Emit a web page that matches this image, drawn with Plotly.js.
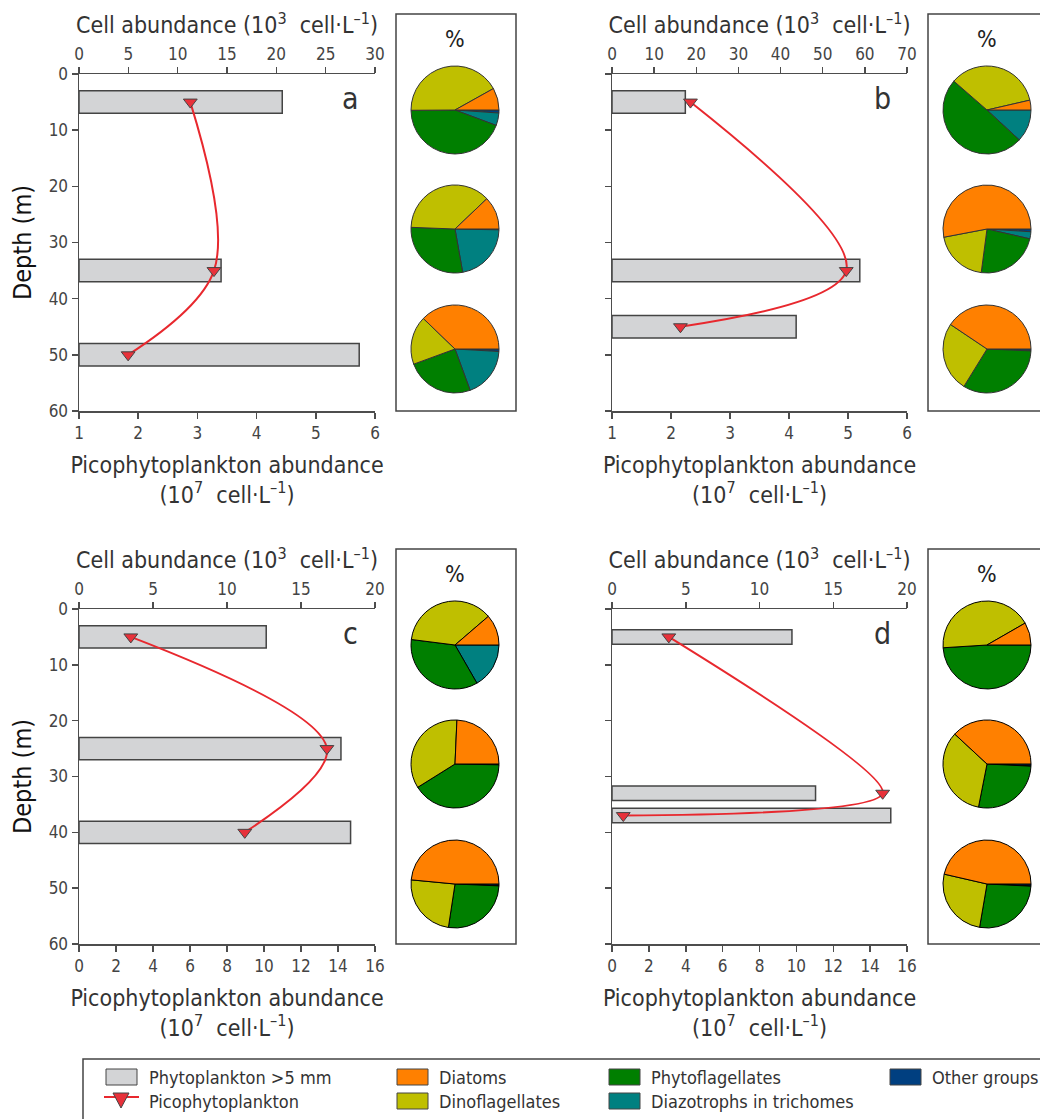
<!DOCTYPE html>
<html><head><meta charset="utf-8">
<script src="https://cdn.plot.ly/plotly-3.0.1.min.js"></script>
<style>html,body{margin:0;padding:0;background:#fff}#chart{width:1040px;height:1119px}</style>
</head><body><div id="chart"></div>
<script>
// ---------------- DATA ----------------
const depthsA = [5, 35, 50];
const cellA = [20.6, 14.4, 28.4];
const picoA = [2.88, 3.28, 1.83];

const depthsB = [5, 35, 45];
const cellB = [17.4, 58.8, 43.7];
const picoB = [2.33, 4.97, 2.16];

const depthsC = [5, 25, 40];
const cellC = [12.65, 17.7, 18.35];
const picoC = [2.8, 13.4, 8.96];

const depthsD = [5, 33, 37];
const cellD = [12.2, 13.8, 18.9];
const picoD = [3.08, 14.68, 0.61];

const panelLetters = ['a', 'b', 'c', 'd'];
const cellTicksA = [0, 5, 10, 15, 20, 25, 30];
const cellTicksB = [0, 10, 20, 30, 40, 50, 60, 70];
const cellTicksCD = [0, 5, 10, 15, 20];
const picoTicksAB = [1, 2, 3, 4, 5, 6];
const picoTicksCD = [0, 2, 4, 6, 8, 10, 12, 14, 16];
const depthTicks = [0, 10, 20, 30, 40, 50, 60];

const groupLabels = ['Diatoms', 'Dinoflagellates', 'Phytoflagellates', 'Diazotrophs in trichomes', 'Other groups'];
// percentages per depth (top, middle, bottom), in groupLabels order
const pieA = [[8.1, 42.0, 44.2, 4.6, 1.1], [12.1, 37.3, 28.4, 21.9, 0.3], [37.8, 17.8, 25.0, 18.5, 0.9]];
const pieB = [[3.6, 35.0, 49.5, 11.9, 0.0], [53.0, 19.9, 23.5, 2.6, 1.0], [40.6, 25.6, 33.1, 0.0, 0.7]];
const pieC = [[11.3, 36.7, 35.3, 16.7, 0.0], [24.3, 34.6, 40.8, 0.0, 0.3], [48.5, 24.1, 26.7, 0.0, 0.7]];
const pieD = [[8.3, 42.7, 49.0, 0.0, 0.0], [38.1, 33.8, 27.3, 0.0, 0.8], [46.4, 25.9, 26.9, 0.0, 0.8]];

const legendBarLabel = 'Phytoplankton >5 mm';
const legendPicoLabel = 'Picophytoplankton';

// ---------------- STYLE / LAYOUT ----------------
const W = 1040, H = 1119;
const FONT = '"Liberation Sans Narrow", "Arial Narrow", "DejaVu Sans Condensed", sans-serif';
const groupColors = ['#FF8000', '#BFBF00', '#007F00', '#008080', '#003F80'];
const axisColor = '#4d4d4d';
const tickFont = {family: FONT, size: 17, color: '#444'};
const titleFont = {family: FONT, size: 23, color: '#333'};
const px = x => x / W;
const py = y => 1 - y / H;

const panels = [
  {depths: depthsA, cell: cellA, pico: picoA, cellTicks: cellTicksA, cellRange: [0, 30], picoTicks: picoTicksAB, picoRange: [1, 6], barW: 4, smooth: 1.0, x0: 79, x1: 375, y0: 74, y1: 411, labels: true, pies: pieA, pieLine: '#333'},
  {depths: depthsB, cell: cellB, pico: picoB, cellTicks: cellTicksB, cellRange: [0, 70], picoTicks: picoTicksAB, picoRange: [1, 6], barW: 4, smooth: 1.0, x0: 612, x1: 907, y0: 74, y1: 411, labels: false, pies: pieB, pieLine: '#333'},
  {depths: depthsC, cell: cellC, pico: picoC, cellTicks: cellTicksCD, cellRange: [0, 20], picoTicks: picoTicksCD, picoRange: [0, 16], barW: 4, smooth: 1.0, x0: 79, x1: 375, y0: 609, y1: 944, labels: true, pies: pieC, pieLine: '#000'},
  {depths: depthsD, cell: cellD, pico: picoD, cellTicks: cellTicksCD, cellRange: [0, 20], picoTicks: picoTicksCD, picoRange: [0, 16], barW: 2.6, smooth: 0.7, x0: 612, x1: 907, y0: 609, y1: 944, labels: false, pies: pieD, pieLine: '#000'}
];

const data = [];
const layout = {
  width: W, height: H,
  margin: {l: 0, r: 0, t: 0, b: 0},
  paper_bgcolor: '#fff', plot_bgcolor: 'rgba(0,0,0,0)',
  showlegend: false,
  font: {family: FONT, color: '#333'},
  shapes: [], annotations: []
};

const cellTitle = 'Cell abundance (10<sup>3</sup>\u00A0\u00A0cell\u00B7L<sup>\u20131</sup>)';
const picoTitle = 'Picophytoplankton abundance<br>(10<sup>7</sup>\u00A0\u00A0cell\u00B7L<sup>\u20131</sup>)';

panels.forEach((p, i) => {
  const topN = 2 * i + 1, botN = 2 * i + 2, yN = i + 1;
  const topKey = 'xaxis' + (topN === 1 ? '' : topN);
  const botKey = 'xaxis' + botN;
  const yKey = 'yaxis' + (yN === 1 ? '' : yN);
  const topRef = 'x' + (topN === 1 ? '' : topN);
  const botRef = 'x' + botN;
  const yRef = 'y' + (yN === 1 ? '' : yN);
  const common = {
    showgrid: false, zeroline: false, showline: true, linecolor: axisColor, linewidth: 1.5,
    ticks: 'outside', ticklen: 6, tickwidth: 1.5, tickcolor: axisColor,
    tickfont: tickFont, fixedrange: true, automargin: false
  };
  layout[topKey] = Object.assign({}, common, {
    domain: [px(p.x0), px(p.x1)], anchor: yRef, side: 'top', range: p.cellRange,
    tickmode: 'array', tickvals: p.cellTicks, ticktext: p.cellTicks.map(String),
    title: {text: cellTitle, font: titleFont, standoff: 3}
  });
  layout[botKey] = Object.assign({}, common, {
    domain: [px(p.x0), px(p.x1)], anchor: yRef, side: 'bottom', overlaying: topRef, range: p.picoRange,
    tickmode: 'array', tickvals: p.picoTicks, ticktext: p.picoTicks.map(String),
    title: {text: picoTitle, font: titleFont, standoff: 15}
  });
  layout[yKey] = Object.assign({}, common, {
    domain: [py(p.y1), py(p.y0)], anchor: topRef, range: [60, 0],
    tickmode: 'array', tickvals: depthTicks, ticktext: depthTicks.map(String),
    showticklabels: p.labels,
    title: p.labels ? {text: 'Depth (m)', font: {family: FONT, size: 25, color: '#111'}, standoff: 10} : {text: ''}
  });

  data.push({
    type: 'bar', orientation: 'h', x: p.cell, y: p.depths, width: p.depths.map(() => p.barW),
    xaxis: topRef, yaxis: yRef,
    marker: {color: '#D3D4D6', line: {color: '#444', width: 1.5}},
    name: legendBarLabel, hoverinfo: 'x+y'
  });
  data.push({
    type: 'scatter', mode: 'lines+markers', x: p.pico, y: p.depths,
    xaxis: botRef, yaxis: yRef,
    line: {color: '#E8282E', width: 2, shape: 'spline', smoothing: p.smooth},
    marker: {symbol: 'triangle-down', size: 12, color: '#E8313A', line: {color: '#444', width: 1}},
    name: legendPicoLabel, cliponaxis: false
  });

  // panel letter
  layout.annotations.push({
    xref: 'paper', yref: 'paper', x: px(p.x1 - 25), y: py(p.y0 + 24), text: panelLetters[i],
    showarrow: false, xanchor: 'center', yanchor: 'middle',
    font: {family: FONT, size: 30, color: '#333'}
  });

  // pie box
  const bx0 = p.x1 + 21, bx1 = bx0 + 120;
  const by0 = p.y0 - 60, by1 = p.y1;
  layout.shapes.push({type: 'rect', xref: 'paper', yref: 'paper', x0: px(bx0), x1: px(bx1), y0: py(by1), y1: py(by0),
    line: {color: '#444', width: 1.5}, fillcolor: 'rgba(0,0,0,0)'});
  layout.annotations.push({
    xref: 'paper', yref: 'paper', x: px(bx0 + 59), y: py(by0 + 25), text: '%', showarrow: false,
    xanchor: 'center', yanchor: 'middle', font: {family: FONT, size: 23, color: '#222'}
  });
  const cx = bx0 + 59;
  const cys = [p.y0 + 36, p.y0 + 155, p.y0 + 275];
  const r = 44;
  p.pies.forEach((vals, k) => {
    data.push({
      type: 'pie', sort: false, direction: 'clockwise', rotation: 90,
      labels: groupLabels.slice().reverse(), values: vals.slice().reverse(),
      marker: {colors: groupColors.slice().reverse(), line: {color: p.pieLine, width: 1}},
      textinfo: 'none', showlegend: false, hoverinfo: 'label+percent',
      domain: {x: [px(cx - r), px(cx + r)], y: [py(cys[k] + r), py(cys[k] - r)]}
    });
  });
});

// ---------------- LEGEND (drawn) ----------------
layout.shapes.push({type: 'rect', xref: 'paper', yref: 'paper', x0: px(83), x1: px(1060), y0: py(1130), y1: py(1059),
  line: {color: '#444', width: 1.5}, fillcolor: 'rgba(0,0,0,0)'});
const legFont = {family: FONT, size: 18, color: '#333'};
function legRect(x, y, color) {
  layout.shapes.push({type: 'rect', xref: 'paper', yref: 'paper', x0: px(x), x1: px(x + 31), y0: py(y + 8), y1: py(y - 8),
    line: {color: '#444', width: 1}, fillcolor: color});
}
function legText(x, y, t) {
  layout.annotations.push({xref: 'paper', yref: 'paper', x: px(x), y: py(y), text: t, showarrow: false,
    xanchor: 'left', yanchor: 'middle', font: legFont});
}
const row1 = 1077, row2 = 1101;
legRect(106, row1, '#D3D4D6');
legText(147, row1, legendBarLabel);
layout.shapes.push({type: 'line', xref: 'paper', yref: 'paper', x0: px(104), x1: px(139), y0: py(row2 - 4), y1: py(row2 - 4),
  line: {color: '#E8282E', width: 2}});
layout.shapes.push({type: 'path', xref: 'paper', yref: 'paper',
  path: `M ${px(113)} ${py(row2 - 8)} L ${px(129)} ${py(row2 - 8)} L ${px(121)} ${py(row2 + 7)} Z`,
  fillcolor: '#E8313A', line: {color: '#444', width: 1}});
legText(147, row2, legendPicoLabel);
const legCols = [[397, row1, 0], [397, row2, 1], [609, row1, 2], [609, row2, 3], [890, row1, 4]];
legCols.forEach(([x, y, gi]) => {
  legRect(x, y, groupColors[gi]);
  legText(x + 40, y, groupLabels[gi]);
});

Plotly.newPlot('chart', data, layout, {displayModeBar: false, staticPlot: true});
</script></body></html>
